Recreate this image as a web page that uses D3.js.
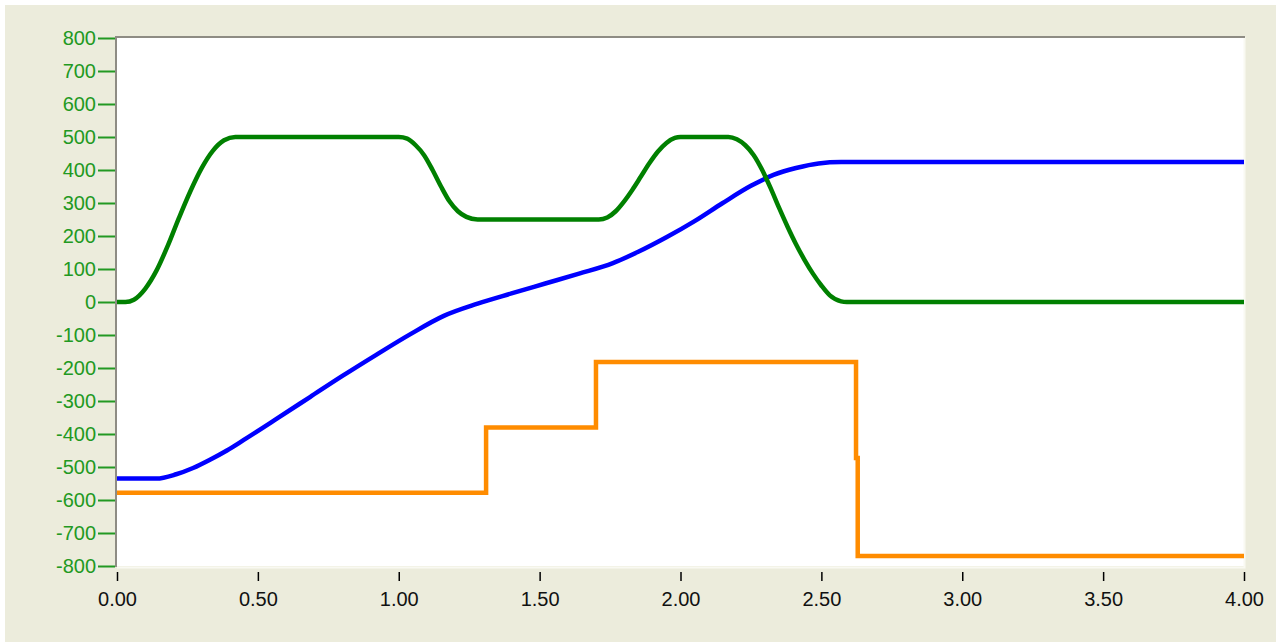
<!DOCTYPE html>
<html>
<head>
<meta charset="utf-8">
<script src="https://cdn.jsdelivr.net/npm/d3@7/dist/d3.min.js"></script>
<style>
html,body{margin:0;padding:0;background:#ffffff;}
svg{display:block;}
</style>
</head>
<body>
<svg id="chart" width="1276" height="642"></svg>
<script>
// ---- data ----
const xTicks = [0, 0.5, 1, 1.5, 2, 2.5, 3, 3.5, 4];
const yTicks = [-800,-700,-600,-500,-400,-300,-200,-100,0,100,200,300,400,500,600,700,800];

const greenT = [0,0.03,0.06,0.10,0.14,0.18,0.22,0.26,0.30,0.34,0.38,0.42,
  1.00,1.03,1.06,1.09,1.12,1.15,1.18,1.21,1.24,1.28,
  1.71,1.74,1.77,1.80,1.83,1.86,1.89,1.92,1.95,1.98,2.00,
  2.17,2.20,2.23,2.26,2.29,2.32,2.35,2.38,2.41,2.44,2.47,2.50,2.53,2.57,2.59,4.00];
const greenV = [0,0,7,40,95,170,255,335,405,458,490,500,
  500,495,475,445,400,350,305,275,258,250,
  250,256,275,305,341,381,421,456,482,497,500,
  500,493,475,445,400,345,285,228,175,128,86,50,20,2,0,0];

const blueT = [0,0.14,0.21,0.27,0.33,0.39,0.45,0.57,0.685,0.80,0.92,1.04,1.16,1.28,1.40,1.52,1.64,1.76,1.85,1.95,2.05,2.15,2.25,2.33,2.41,2.49,2.57,4.00];
const blueV = [-535,-535,-522,-503,-478,-450,-418,-352,-288,-224,-160,-98,-42,-5,26,56,86,118,152,196,245,300,352,385,406,420,424,424];

const orangeT = [0,1.31,1.31,1.70,1.70,2.623,2.623,2.629,2.629,4.00];
const orangeV = [-578,-578,-380,-380,-182,-182,-473,-473,-770,-770];

// ---- layout ----
const svg = d3.select("#chart");
const W = 1276, H = 642;
const plot = {left:117, right:1244, top:38, bottom:566};
const FONT = "'Liberation Sans', Arial, sans-serif";

svg.append("rect").attr("x",5).attr("y",5).attr("width",W-5).attr("height",H-5).attr("fill","#ECECDC");

const x = d3.scaleLinear().domain([0,4]).range([plot.left, plot.right]);
const y = d3.scaleLinear().domain([-800,800]).range([plot.bottom, plot.top]);

// plot background
svg.append("rect").attr("x",plot.left).attr("y",plot.top)
  .attr("width",plot.right-plot.left).attr("height",plot.bottom-plot.top).attr("fill","#ffffff");
// light right/bottom edge
svg.append("path").attr("d",`M${plot.right+0.5},${plot.top-1}V${plot.bottom+1.5}H${plot.left}`)
  .attr("fill","none").attr("stroke","#F9F9F2").attr("stroke-width",2);
// dark top/left edge
svg.append("path").attr("d",`M${plot.left-1},${plot.bottom+1}V${plot.top-1}H${plot.right+1}`)
  .attr("fill","none").attr("stroke","#8E8C84").attr("stroke-width",2);

// y axis (green)
const yAxis = d3.axisLeft(y).tickValues(yTicks).tickSize(17).tickPadding(2)
  .tickFormat(d => String(d));
const gy = svg.append("g").attr("transform",`translate(${plot.left-2},0)`).call(yAxis);
gy.select(".domain").remove();
gy.selectAll(".tick line").attr("stroke","#229922").attr("stroke-width",2);
gy.selectAll(".tick text").attr("fill","#229922")
  .style("font-family",FONT).style("font-size","20px");

// x axis (black)
const xAxis = d3.axisBottom(x).tickValues(xTicks).tickSize(9).tickPadding(11).tickFormat(d3.format(".2f"));
const gx = svg.append("g").attr("transform",`translate(0,${plot.bottom+6})`).call(xAxis);
gx.select(".domain").remove();
gx.selectAll(".tick line").attr("stroke","#000").attr("stroke-width",1.5);
gx.selectAll(".tick text").attr("fill","#111")
  .style("font-family",FONT).style("font-size","20px");

// series
const zip = (ts, vs) => ts.map((t,i)=>[t, vs[i]]);
const smooth = d3.line().x(d=>x(d[0])).y(d=>y(d[1])).curve(d3.curveMonotoneX);
const straight = d3.line().x(d=>x(d[0])).y(d=>y(d[1]));

svg.append("path").attr("d", straight(zip(orangeT, orangeV)))
  .attr("fill","none").attr("stroke","#FF8C00").attr("stroke-width",4.5).attr("stroke-linejoin","miter");
svg.append("path").attr("d", smooth(zip(blueT, blueV)))
  .attr("fill","none").attr("stroke","#0000FF").attr("stroke-width",4.5);
svg.append("path").attr("d", smooth(zip(greenT, greenV)))
  .attr("fill","none").attr("stroke","#008000").attr("stroke-width",4.5);
</script>
</body>
</html>
